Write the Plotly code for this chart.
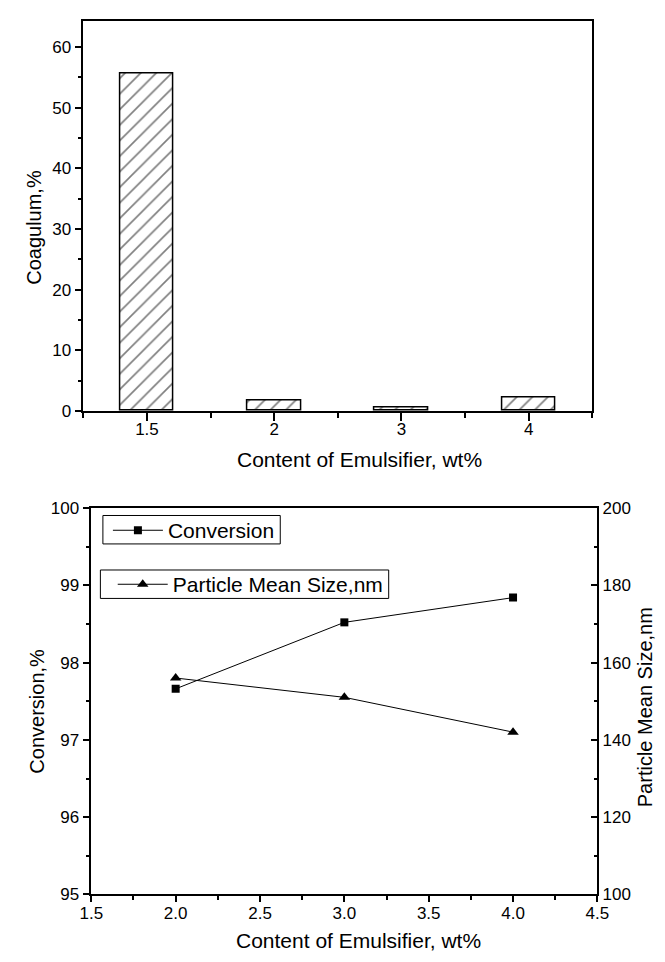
import plotly.graph_objects as go

# ---- data ----
categories = ["1.5", "2", "3", "4"]
coagulum = [55.6, 1.7, 0.5, 2.25]

emulsifier = [2.0, 3.0, 4.0]
conversion = [97.66, 98.52, 98.84]
particle_size = [156, 151, 142]

W, H = 665, 962
FONT = "Liberation Sans, Arial, sans-serif"

def px_x(p):
    return p / W

def px_y(p):
    return 1 - p / H

fig = go.Figure()

fig.add_trace(go.Bar(
    x=list(range(len(categories))), y=coagulum, width=0.42,
    marker=dict(color="white", line=dict(color="black", width=1.5),
                pattern=dict(shape="/", fgcolor="black", bgcolor="white", size=11, solidity=0.15)),
    xaxis="x", yaxis="y", showlegend=False,
))

fig.add_trace(go.Scatter(
    x=emulsifier, y=conversion, mode="lines+markers", name="Conversion",
    line=dict(color="black", width=1),
    marker=dict(symbol="square", size=8, color="black"),
    xaxis="x2", yaxis="y2", legend="legend",
))

fig.add_trace(go.Scatter(
    x=emulsifier, y=particle_size, mode="lines+markers", name="Particle Mean Size,nm",
    line=dict(color="black", width=1),
    marker=dict(symbol="triangle-up", size=10, color="black"),
    xaxis="x2", yaxis="y3", legend="legend2",
))

tickfont = dict(family=FONT, size=17, color="black")
common = dict(showgrid=False, zeroline=False, showline=True, linecolor="black",
              linewidth=1.6, tickcolor="black", tickwidth=1.5, tickfont=tickfont)

legend_font = dict(family=FONT, size=21, color="black")

fig.update_layout(
    width=W, height=H,
    margin=dict(l=0, r=0, t=0, b=0),
    paper_bgcolor="white", plot_bgcolor="white",
    font=dict(family=FONT, color="black"),
    bargap=0,
    xaxis=dict(domain=[px_x(74), px_x(602)], anchor="y", range=[-0.5, 3.5],
               tickmode="array", tickvals=list(range(len(categories))), ticktext=categories,
               ticks="outside", ticklen=8, mirror=True, ticklabelstandoff=-6,
               minor=dict(tick0=0.5, dtick=1, ticks="outside", ticklen=5, tickcolor="black", tickwidth=1.5),
               **common),
    yaxis=dict(domain=[px_y(410), px_y(12.7)], anchor="x", range=[0, 64.2],
               dtick=10, ticks="outside", ticklen=7, mirror=True,
               minor=dict(dtick=5, ticks="outside", ticklen=4, tickcolor="black", tickwidth=1.5),
               **common),
    xaxis2=dict(domain=[px_x(82.3), px_x(607.3)], anchor="y2", range=[1.5, 4.5],
                dtick=0.5, tickformat=".1f", ticks="outside", ticklen=6, mirror=True,
                ticklabelstandoff=-4,
                minor=dict(dtick=0.25, ticks="outside", ticklen=4, tickcolor="black", tickwidth=1.5),
                **common),
    yaxis2=dict(domain=[px_y(903.3), px_y(509)], anchor="x2", range=[95, 100],
                dtick=1, ticks="outside", ticklen=7, mirror=True,
                minor=dict(dtick=0.5, ticks="outside", ticklen=4, tickcolor="black", tickwidth=1.5),
                **common),
    yaxis3=dict(overlaying="y2", anchor="x2", side="right", range=[100, 200],
                dtick=20, ticks="inside", ticklen=7,
                minor=dict(dtick=10, ticks="inside", ticklen=4, tickcolor="black", tickwidth=1.5),
                **common),
    legend=dict(x=px_x(99.5), y=px_y(511.2), xanchor="left", yanchor="top",
                borderwidth=0, bgcolor="rgba(0,0,0,0)", itemwidth=50,
                font=legend_font),
    legend2=dict(x=px_x(104.5), y=px_y(566.3), xanchor="left", yanchor="top",
                 borderwidth=0, bgcolor="rgba(0,0,0,0)", itemwidth=50,
                 font=legend_font),
)

# legend frames
fig.add_shape(type="rect", xref="paper", yref="paper",
              x0=px_x(94.3), x1=px_x(278.3), y0=px_y(545.7), y1=px_y(516.7),
              line=dict(color="black", width=1), fillcolor="rgba(0,0,0,0)", layer="above")
fig.add_shape(type="rect", xref="paper", yref="paper",
              x0=px_x(91.7), x1=px_x(390.8), y0=px_y(601.3), y1=px_y(572.3),
              line=dict(color="black", width=1), fillcolor="rgba(0,0,0,0)", layer="above")

ann_font_x = dict(family=FONT, size=21, color="black")
ann_font_y = dict(family=FONT, size=20, color="black")
annotations = [
    dict(text="Content of Emulsifier, wt%", x=px_x(360), y=px_y(460), font=ann_font_x, textangle=0),
    dict(text="Coagulum,%", x=px_x(22), y=px_y(223), font=ann_font_y, textangle=-90),
    dict(text="Content of Emulsifier, wt%", x=px_x(359), y=px_y(950), font=ann_font_x, textangle=0),
    dict(text="Conversion,%", x=px_x(25), y=px_y(716.7), font=ann_font_y, textangle=-90),
    dict(text="Particle Mean Size,nm", x=px_x(657), y=px_y(712), font=ann_font_y, textangle=-90),
]
for a in annotations:
    fig.add_annotation(xref="paper", yref="paper", showarrow=False,
                       xanchor="center", yanchor="middle", **a)

fig.write_html("out.html")
